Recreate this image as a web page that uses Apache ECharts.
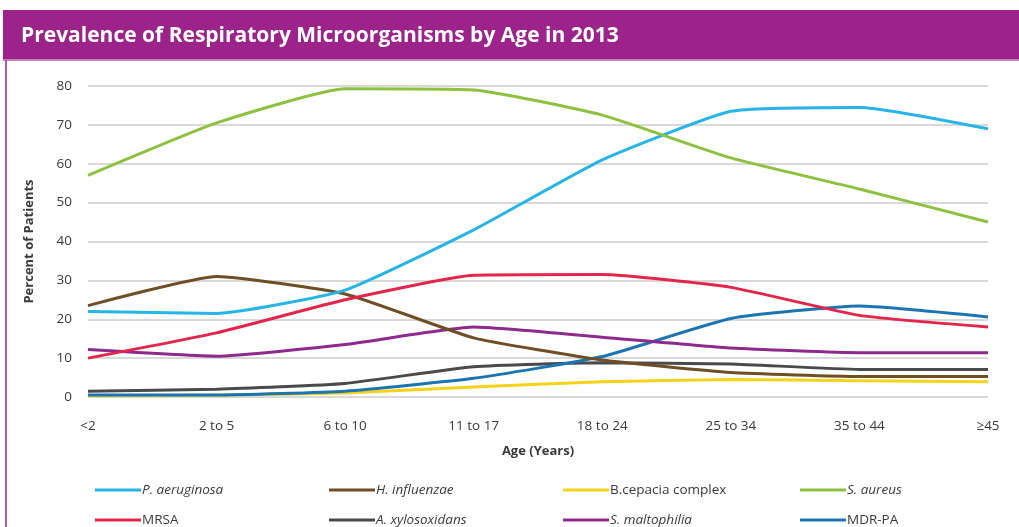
<!DOCTYPE html>
<html>
<head>
<meta charset="utf-8">
<script src="https://cdn.jsdelivr.net/npm/echarts@6/dist/echarts.min.js"></script>
<style>
html,body{margin:0;padding:0;background:#fff;}
#c{width:1019px;height:527px;}
</style>
</head>
<body>
<div id="c"></div>
<script>
var categories = ['<2', '2 to 5', '6 to 10', '11 to 17', '18 to 24', '25 to 34', '35 to 44', '≥45'];
var yTicks = [0, 10, 20, 30, 40, 50, 60, 70, 80];
var seriesNames = ['P. aeruginosa', 'H. influenzae', 'B.cepacia complex', 'S. aureus', 'MRSA', 'A. xylosoxidans', 'S. maltophilia', 'MDR-PA'];
var pAeruginosa = [22, 21.5, 27.5, 43, 61, 73.5, 74.5, 69];
var hInfluenzae = [23.5, 31, 26.5, 15.2, 9.5, 6.3, 5.3, 5.3];
var bCepacia = [0.3, 0.5, 1, 2.6, 3.9, 4.5, 4.2, 3.9];
var sAureus = [57, 70.5, 79.3, 79, 72.5, 61.5, 53.5, 45];
var mrsa = [10, 16.5, 25, 31.3, 31.5, 28.2, 21, 18];
var aXylosoxidans = [1.5, 2, 3.5, 7.8, 8.8, 8.5, 7.1, 7.1];
var sMaltophilia = [12.2, 10.5, 13.5, 18, 15.4, 12.6, 11.4, 11.4];
var mdrPA = [0.5, 0.5, 1.5, 4.8, 10.4, 20.2, 23.4, 20.6];

var colors = ['#27b4e6', '#6e4e25', '#f5d31a', '#8dc13f', '#e4254b', '#4a4a4c', '#8e2a8c', '#1c75b1'];
var dataList = [pAeruginosa, hInfluenzae, bCepacia, sAureus, mrsa, aXylosoxidans, sMaltophilia, mdrPA];
var italic = {'P. aeruginosa':1,'H. influenzae':1,'S. aureus':1,'A. xylosoxidans':1,'S. maltophilia':1};
var drawOrder = [2, 5, 7, 6, 1, 4, 0, 3];

var series = drawOrder.map(function(i){
  return {
    name: seriesNames[i], type: 'line', data: dataList[i], smooth: 0.15,
    symbol: 'none', color: colors[i],
    lineStyle: {width: 3, color: colors[i]}, z: 2
  };
});

var FONT = '"Open Sans", "Liberation Sans", sans-serif';
var colX = [90, 324, 558, 795];
var rowTop = [478, 508];
var legends = seriesNames.map(function(name, k){
  return {
    orient: 'horizontal', left: colX[k % 4], top: rowTop[Math.floor(k / 4)],
    itemWidth: 46, itemHeight: 3, icon: 'rect',
    data: [name],
    formatter: function(n){ return italic[n] ? '{i|' + n + '}' : '{n|' + n + '}'; },
    textStyle: {
      fontFamily: FONT, fontSize: 13.5, color: '#3a3a3a', padding: [0,0,0,-4],
      rich: {i: {fontStyle: 'italic', fontFamily: FONT, fontSize: 13.5, color: '#3a3a3a'},
             n: {fontFamily: FONT, fontSize: 13.5, color: '#3a3a3a'}}
    },
    selectedMode: false
  };
});

var chart = echarts.init(document.getElementById('c'), null, {renderer: 'canvas'});
chart.setOption({
  animation: false,
  backgroundColor: '#fff',
  grid: {left: 88, right: 31, top: 86, bottom: 130, containLabel: false},
  graphic: [
    {type: 'rect', shape: {x: 3, y: 10, width: 1016, height: 50}, style: {fill: '#9b2389'}, z: 0},
    {type: 'rect', shape: {x: 3, y: 59, width: 1016, height: 2}, style: {fill: '#c57fba'}, z: 0},
    {type: 'rect', shape: {x: 5, y: 60, width: 2, height: 467}, style: {fill: '#b45aa6'}, z: 0},
    {type: 'text', left: 21, top: 26, style: {text: 'Prevalence of Respiratory Microorganisms by Age in 2013', fill: '#ffffff', font: 'bold 21px ' + FONT}, z: 5}
  ],
  legend: legends,
  xAxis: {
    type: 'category', data: categories, boundaryGap: false,
    name: 'Age (Years)', nameLocation: 'middle', nameGap: 48,
    nameTextStyle: {fontFamily: FONT, fontSize: 13, fontWeight: 'bold', color: '#3a3a3a'},
    axisLine: {show: false}, axisTick: {show: false},
    axisLabel: {fontFamily: FONT, fontSize: 13.5, color: '#3a3a3a', margin: 22}
  },
  yAxis: {
    type: 'value', min: yTicks[0], max: yTicks[yTicks.length-1], interval: 10,
    name: 'Percent of Patients', nameLocation: 'middle', nameGap: 52, nameRotate: 90,
    nameTextStyle: {fontFamily: FONT, fontSize: 13, fontWeight: 'bold', color: '#3a3a3a'},
    axisLine: {show: false}, axisTick: {show: false},
    axisLabel: {fontFamily: FONT, fontSize: 13.5, color: '#3a3a3a', margin: 16},
    splitLine: {lineStyle: {color: '#d9d9d9', width: 2}}
  },
  series: series
});
</script>
</body>
</html>
